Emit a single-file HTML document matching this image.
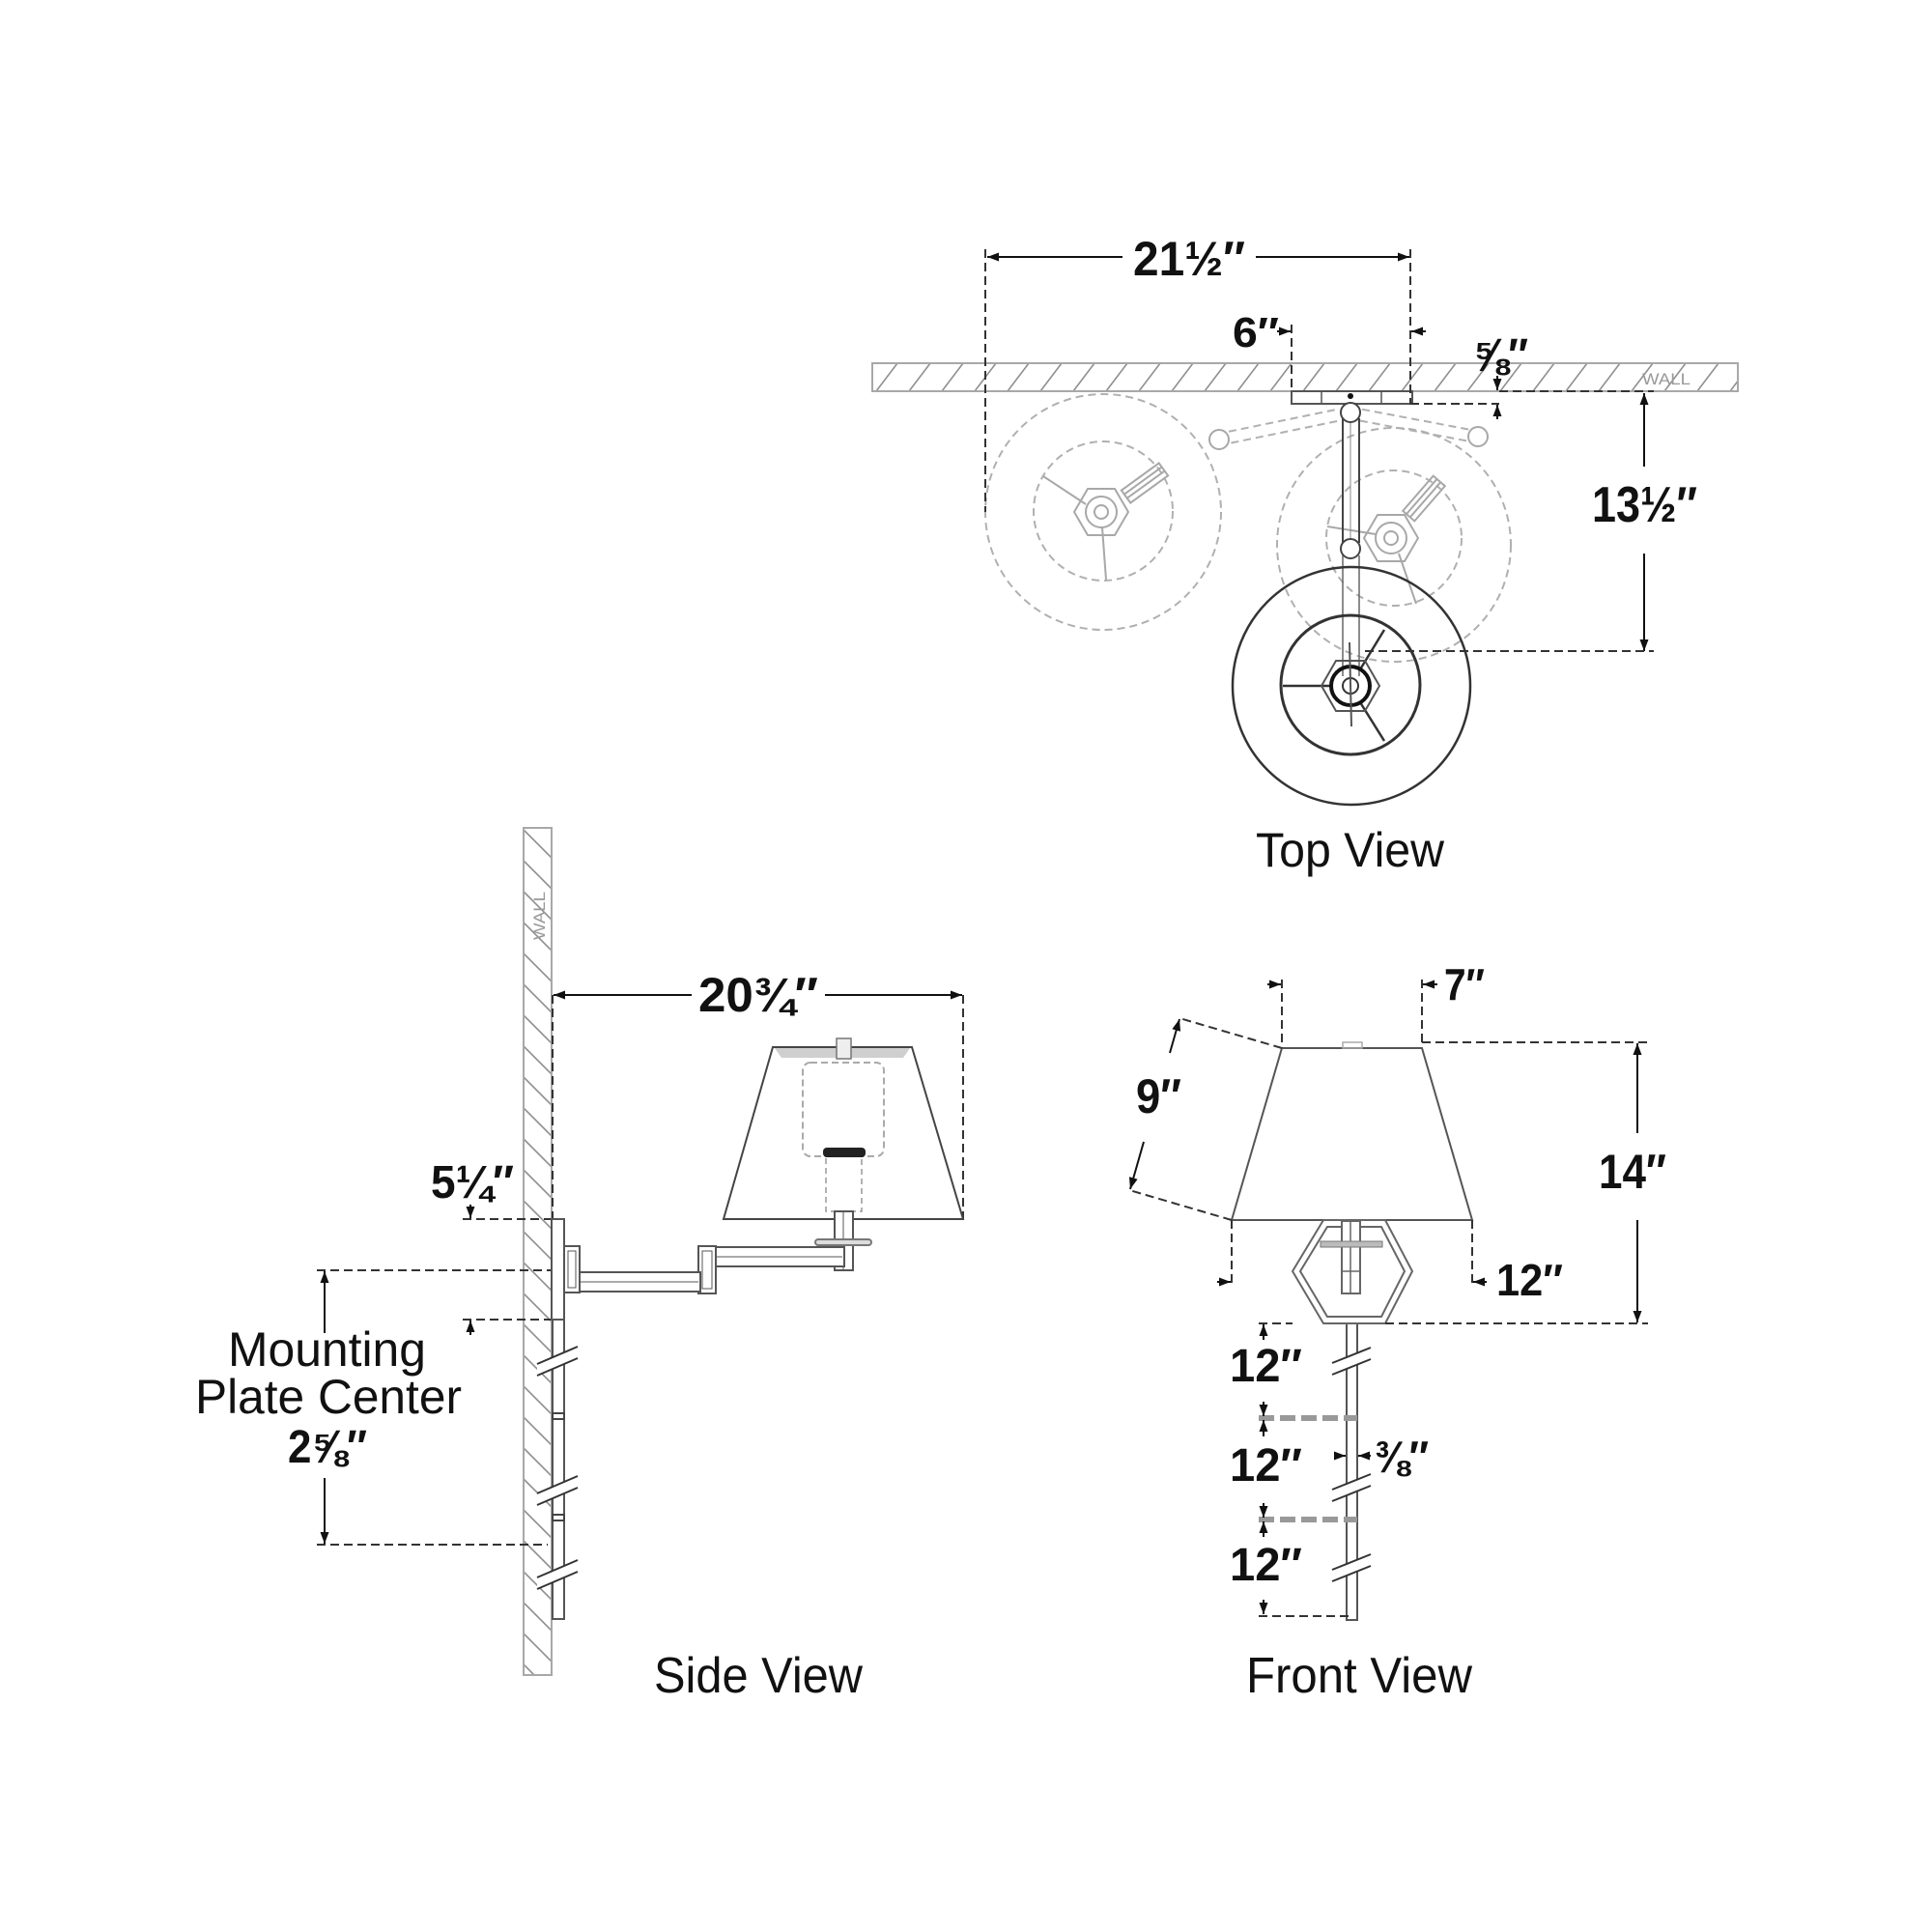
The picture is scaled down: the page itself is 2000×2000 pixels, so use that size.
<!DOCTYPE html>
<html><head><meta charset="utf-8"><style>
html,body{margin:0;padding:0;background:#fff;}
svg{display:block;}
text{font-family:"Liberation Sans","DejaVu Sans",sans-serif;fill:#111;}
.d{font-weight:bold;}
</style></head><body>
<svg width="2000" height="2000" viewBox="0 0 2000 2000" xmlns="http://www.w3.org/2000/svg">
<defs>
<marker id="a" viewBox="0 0 12 10" refX="12" refY="5" markerWidth="13" markerHeight="10" markerUnits="userSpaceOnUse" orient="auto"><path d="M0,0.5 L12,5 L0,9.5 z" fill="#111"/></marker>
<pattern id="hT" patternUnits="userSpaceOnUse" x="903" y="376" width="34" height="29"><path d="M4,29 L26,0" stroke="#8f8f8f" stroke-width="1.6"/></pattern>
<pattern id="hS" patternUnits="userSpaceOnUse" x="542" y="857" width="29" height="32"><path d="M0,2 L29,31" stroke="#8f8f8f" stroke-width="1.6"/></pattern>
</defs>
<rect width="2000" height="2000" fill="#fff"/>

<!-- ================= TOP VIEW ================= -->
<rect x="903" y="376" width="896" height="29" fill="url(#hT)" stroke="#a8a8a8" stroke-width="2"/>
<text x="1700" y="398" font-size="17" style="fill:#999" textLength="50" lengthAdjust="spacingAndGlyphs">WALL</text>

<!-- ghost lamps -->
<g stroke="#b0b0b0" stroke-width="2" stroke-dasharray="8 5" fill="none">
<circle cx="1142" cy="530" r="122"/>
<circle cx="1142" cy="529" r="72"/>
<circle cx="1443" cy="564" r="121"/>
<circle cx="1443" cy="557" r="70"/>
<g transform="translate(1330,441) rotate(-11.6)"><line x1="-58" y1="-6" x2="58" y2="-6"/><line x1="-58" y1="6" x2="58" y2="6"/></g>
<g transform="translate(1464,440) rotate(10.7)"><line x1="-56" y1="-6" x2="56" y2="-6"/><line x1="-56" y1="6" x2="56" y2="6"/></g>
</g>
<g stroke="#a8a8a8" stroke-width="2" fill="none">
<circle cx="1262" cy="455" r="10" fill="#fff"/>
<circle cx="1530" cy="452" r="10" fill="#fff"/>
<polygon points="1168,530 1154,554 1126,554 1112,530 1126,506 1154,506"/>
<circle cx="1140" cy="530" r="16"/>
<circle cx="1140" cy="530" r="7"/>
<line x1="1124" y1="522" x2="1080" y2="493"/>
<line x1="1141" y1="546" x2="1145" y2="600"/>
<polygon points="1468,557 1454,581 1426,581 1412,557 1426,533 1454,533"/>
<circle cx="1440" cy="557" r="16"/>
<circle cx="1440" cy="557" r="7"/>
<line x1="1424" y1="553" x2="1374" y2="545"/>
<line x1="1448" y1="573" x2="1466" y2="625"/>
<g transform="translate(1185,500) rotate(-36)"><rect x="-24" y="-8" width="48" height="16"/><line x1="-24" y1="-3" x2="24" y2="-3"/><line x1="-24" y1="2" x2="24" y2="2"/></g>
<g transform="translate(1474,516) rotate(-49)"><rect x="-24" y="-8" width="48" height="16"/><line x1="-24" y1="-3" x2="24" y2="-3"/><line x1="-24" y1="2" x2="24" y2="2"/></g>
</g>

<!-- plate -->
<rect x="1337" y="405" width="125" height="13" fill="#fff" stroke="#555" stroke-width="2"/>
<line x1="1368" y1="405" x2="1368" y2="418" stroke="#555" stroke-width="1.5"/>
<line x1="1430" y1="405" x2="1430" y2="418" stroke="#555" stroke-width="1.5"/>
<circle cx="1398" cy="410" r="3" fill="#111"/>

<!-- front lamp arm -->
<g stroke="#444" stroke-width="2" fill="none">
<line x1="1390" y1="433" x2="1390" y2="562"/>
<line x1="1407" y1="433" x2="1407" y2="562"/>
<line x1="1398" y1="437" x2="1398" y2="558" stroke="#888" stroke-width="1"/>
<line x1="1390" y1="575" x2="1390" y2="700" stroke="#666" stroke-width="1.5"/>
<line x1="1407" y1="575" x2="1407" y2="700" stroke="#666" stroke-width="1.5"/>
<circle cx="1398" cy="427" r="10" fill="#fff"/>
<circle cx="1398" cy="568" r="10" fill="#fff"/>
</g>
<!-- front shade top -->
<g stroke="#333" fill="none">
<circle cx="1399" cy="710" r="123" stroke-width="2.5"/>
<circle cx="1398" cy="709" r="72" stroke-width="3"/>
<line x1="1328" y1="710" x2="1378" y2="710" stroke-width="2.5"/>
<line x1="1408" y1="693" x2="1433" y2="652" stroke-width="2.5"/>
<line x1="1408" y1="727" x2="1433" y2="767" stroke-width="2.5"/>
<polygon points="1428,710 1413,736 1383,736 1368,710 1383,684 1413,684" stroke-width="2" stroke="#555"/>
<circle cx="1398" cy="710" r="20" stroke-width="4" stroke="#111"/>
<circle cx="1398" cy="710" r="8" stroke-width="2"/>
<line x1="1397" y1="665" x2="1399" y2="752" stroke-width="2" stroke="#555"/>
</g>

<!-- top view dims -->
<g stroke="#111" stroke-width="2" fill="none">
<line x1="1162" y1="266" x2="1022" y2="266" marker-end="url(#a)"/>
<line x1="1300" y1="266" x2="1459" y2="266" marker-end="url(#a)"/>
<line x1="1322" y1="343" x2="1336" y2="343" marker-end="url(#a)"/>
<line x1="1476" y1="343" x2="1461" y2="343" marker-end="url(#a)"/>
<line x1="1550" y1="389" x2="1550" y2="404" marker-end="url(#a)"/>
<line x1="1550" y1="434" x2="1550" y2="419" marker-end="url(#a)"/>
<line x1="1702" y1="483" x2="1702" y2="407" marker-end="url(#a)"/>
<line x1="1702" y1="573" x2="1702" y2="674" marker-end="url(#a)"/>
</g>
<g stroke="#333" stroke-width="2" stroke-dasharray="9 5" fill="none">
<line x1="1020" y1="258" x2="1020" y2="530"/>
<line x1="1460" y1="258" x2="1460" y2="418"/>
<line x1="1337" y1="336" x2="1337" y2="405"/>
<line x1="1460" y1="418" x2="1552" y2="418"/>
<line x1="1552" y1="405" x2="1712" y2="405"/>
<line x1="1413" y1="674" x2="1712" y2="674"/>
</g>
<text class="d" x="1173" y="285" font-size="50" textLength="116" lengthAdjust="spacingAndGlyphs">21½″</text>
<text class="d" x="1276" y="359" font-size="44" textLength="48" lengthAdjust="spacingAndGlyphs">6″</text>
<text class="d" x="1525" y="384" font-size="48" textLength="57" lengthAdjust="spacingAndGlyphs">⅝″</text>
<text class="d" x="1648" y="540" font-size="52" textLength="109" lengthAdjust="spacingAndGlyphs">13½″</text>
<text x="1300" y="897" font-size="50" textLength="195" lengthAdjust="spacingAndGlyphs">Top View</text>

<!-- ================= SIDE VIEW ================= -->
<rect x="542" y="857" width="29" height="877" fill="url(#hS)" stroke="#a8a8a8" stroke-width="2"/>
<text transform="translate(564,973) rotate(-90)" font-size="17" style="fill:#999" textLength="50" lengthAdjust="spacingAndGlyphs">WALL</text>

<g stroke="#333" stroke-width="2" stroke-dasharray="9 5" fill="none">
<line x1="572" y1="1030" x2="572" y2="1262"/>
<line x1="997" y1="1030" x2="997" y2="1262"/>
<line x1="479" y1="1262" x2="571" y2="1262"/>
<line x1="479" y1="1366" x2="571" y2="1366"/>
<line x1="328" y1="1315" x2="584" y2="1315"/>
<line x1="328" y1="1599" x2="567" y2="1599"/>
</g>
<g stroke="#111" stroke-width="2" fill="none">
<line x1="716" y1="1030" x2="573" y2="1030" marker-end="url(#a)"/>
<line x1="854" y1="1030" x2="996" y2="1030" marker-end="url(#a)"/>
<line x1="487" y1="1247" x2="487" y2="1261" marker-end="url(#a)"/>
<line x1="487" y1="1382" x2="487" y2="1367" marker-end="url(#a)"/>
<line x1="336" y1="1380" x2="336" y2="1316" marker-end="url(#a)"/>
<line x1="336" y1="1530" x2="336" y2="1598" marker-end="url(#a)"/>
</g>

<!-- shade side -->
<polygon points="802,1085 942,1085 935,1095 809,1095" fill="#cfcfcf"/>
<polygon points="800,1084 944,1084 997,1262 749,1262" fill="none" stroke="#444" stroke-width="2"/>
<rect x="866" y="1075" width="15" height="21" fill="#eee" stroke="#777" stroke-width="1.5"/>
<rect x="831" y="1100" width="84" height="97" rx="8" fill="none" stroke="#aaa" stroke-width="2" stroke-dasharray="7 4"/>
<rect x="855" y="1197" width="37" height="57" fill="none" stroke="#999" stroke-width="1.5" stroke-dasharray="6 4"/>
<rect x="852" y="1188" width="44" height="10" rx="4" fill="#222"/>
<!-- arm side -->
<g stroke="#555" stroke-width="2" fill="#fff">
<rect x="864" y="1254" width="19" height="61"/>
<line x1="873" y1="1255" x2="873" y2="1314" stroke-width="1"/>
<rect x="844" y="1283" width="58" height="6" rx="3" fill="#ddd" stroke="#777"/>
<rect x="735" y="1291" width="139" height="20"/>
<line x1="737" y1="1301" x2="872" y2="1301" stroke-width="1"/>
<rect x="723" y="1290" width="18" height="49"/>
<rect x="727" y="1295" width="10" height="39" stroke-width="1"/>
<rect x="595" y="1317" width="130" height="20"/>
<line x1="597" y1="1327" x2="723" y2="1327" stroke-width="1"/>
<rect x="584" y="1290" width="16" height="48"/>
<rect x="588" y="1295" width="8" height="38" stroke-width="1"/>
<rect x="571" y="1262" width="13" height="104"/>
<rect x="572" y="1366" width="12" height="310"/>
<rect x="572" y="1463" width="12" height="6" fill="none" stroke="#444"/>
<rect x="572" y="1568" width="12" height="6" fill="none" stroke="#444"/>
</g>
<!-- breaks side -->
<g stroke="#333" stroke-width="2">
<polygon points="556,1412 598,1394 598,1406 556,1424" fill="#fff" stroke="none"/>
<line x1="556" y1="1412" x2="598" y2="1394"/><line x1="556" y1="1424" x2="598" y2="1406"/>
<polygon points="556,1546 598,1528 598,1540 556,1558" fill="#fff" stroke="none"/>
<line x1="556" y1="1546" x2="598" y2="1528"/><line x1="556" y1="1558" x2="598" y2="1540"/>
<polygon points="556,1633 598,1615 598,1627 556,1645" fill="#fff" stroke="none"/>
<line x1="556" y1="1633" x2="598" y2="1615"/><line x1="556" y1="1645" x2="598" y2="1627"/>
</g>

<text class="d" x="723" y="1047" font-size="50" textLength="124" lengthAdjust="spacingAndGlyphs">20¾″</text>
<text class="d" x="446" y="1240" font-size="48" textLength="86" lengthAdjust="spacingAndGlyphs">5¼″</text>
<text x="236" y="1414" font-size="50" textLength="205" lengthAdjust="spacingAndGlyphs">Mounting</text>
<text x="202" y="1463" font-size="50" textLength="276" lengthAdjust="spacingAndGlyphs">Plate Center</text>
<text class="d" x="298" y="1514" font-size="48" textLength="82" lengthAdjust="spacingAndGlyphs">2⅝″</text>
<text x="677" y="1752" font-size="52" textLength="216" lengthAdjust="spacingAndGlyphs">Side View</text>

<!-- ================= FRONT VIEW ================= -->
<polygon points="1327,1085 1472,1085 1524,1263 1275,1263" fill="none" stroke="#555" stroke-width="2"/>
<rect x="1390" y="1079" width="20" height="6" fill="none" stroke="#aaa" stroke-width="1.5"/>
<!-- pole -->
<rect x="1394" y="1370" width="11" height="307" fill="#fff" stroke="#555" stroke-width="2"/>
<!-- hex bracket -->
<g fill="none" stroke="#666" stroke-width="2">
<polygon points="1370,1263 1434,1263 1462,1316 1434,1370 1370,1370 1338,1316" fill="#fff"/>
<polygon points="1374,1270 1430,1270 1454,1316 1430,1363 1374,1363 1346,1316"/>
<rect x="1389" y="1264" width="19" height="75" fill="#fff"/>
<line x1="1398" y1="1264" x2="1398" y2="1339" stroke-width="1.5"/>
<line x1="1389" y1="1316" x2="1408" y2="1316" stroke-width="1.5"/>
<rect x="1367" y="1285" width="64" height="6" fill="#bbb" stroke="#777" stroke-width="1"/>
</g>
<!-- gray thick dashes -->
<g stroke="#999" stroke-width="6" stroke-dasharray="16 6">
<line x1="1303" y1="1468" x2="1405" y2="1468"/>
<line x1="1303" y1="1573" x2="1405" y2="1573"/>
</g>
<!-- breaks front -->
<g stroke="#333" stroke-width="2">
<polygon points="1379,1411 1419,1395 1419,1407 1379,1423" fill="#fff" stroke="none"/>
<line x1="1379" y1="1411" x2="1419" y2="1395"/><line x1="1379" y1="1423" x2="1419" y2="1407"/>
<polygon points="1379,1542 1419,1526 1419,1538 1379,1554" fill="#fff" stroke="none"/>
<line x1="1379" y1="1542" x2="1419" y2="1526"/><line x1="1379" y1="1554" x2="1419" y2="1538"/>
<polygon points="1379,1625 1419,1609 1419,1621 1379,1637" fill="#fff" stroke="none"/>
<line x1="1379" y1="1625" x2="1419" y2="1609"/><line x1="1379" y1="1637" x2="1419" y2="1621"/>
</g>
<g stroke="#333" stroke-width="2" stroke-dasharray="9 5" fill="none">
<line x1="1327" y1="1014" x2="1327" y2="1085"/>
<line x1="1472" y1="1014" x2="1472" y2="1079"/>
<line x1="1472" y1="1079" x2="1706" y2="1079"/>
<line x1="1303" y1="1370" x2="1338" y2="1370"/>
<line x1="1434" y1="1370" x2="1706" y2="1370"/>
<line x1="1327" y1="1085" x2="1221" y2="1054"/>
<line x1="1275" y1="1263" x2="1169" y2="1232"/>
<line x1="1275" y1="1263" x2="1275" y2="1331"/>
<line x1="1524" y1="1263" x2="1524" y2="1331"/>
<line x1="1303" y1="1673" x2="1396" y2="1673"/>
</g>
<g stroke="#111" stroke-width="2" fill="none">
<line x1="1312" y1="1019" x2="1326" y2="1019" marker-end="url(#a)"/>
<line x1="1488" y1="1019" x2="1473" y2="1019" marker-end="url(#a)"/>
<line x1="1695" y1="1173" x2="1695" y2="1080" marker-end="url(#a)"/>
<line x1="1695" y1="1263" x2="1695" y2="1369" marker-end="url(#a)"/>
<line x1="1211" y1="1090" x2="1221" y2="1055" marker-end="url(#a)"/>
<line x1="1184" y1="1182" x2="1170" y2="1231" marker-end="url(#a)"/>
<line x1="1260" y1="1327" x2="1274" y2="1327" marker-end="url(#a)"/>
<line x1="1539" y1="1327" x2="1525" y2="1327" marker-end="url(#a)"/>
<line x1="1308" y1="1387" x2="1308" y2="1371" marker-end="url(#a)"/>
<line x1="1308" y1="1451" x2="1308" y2="1466" marker-end="url(#a)"/>
<line x1="1308" y1="1487" x2="1308" y2="1470" marker-end="url(#a)"/>
<line x1="1308" y1="1556" x2="1308" y2="1571" marker-end="url(#a)"/>
<line x1="1308" y1="1591" x2="1308" y2="1575" marker-end="url(#a)"/>
<line x1="1308" y1="1656" x2="1308" y2="1671" marker-end="url(#a)"/>
<line x1="1381" y1="1507" x2="1393" y2="1507" marker-end="url(#a)"/>
<line x1="1419" y1="1507" x2="1406" y2="1507" marker-end="url(#a)"/>
</g>
<text class="d" x="1495" y="1035" font-size="46" textLength="42" lengthAdjust="spacingAndGlyphs">7″</text>
<text class="d" x="1176" y="1152" font-size="50" textLength="47" lengthAdjust="spacingAndGlyphs">9″</text>
<text class="d" x="1655" y="1230" font-size="50" textLength="70" lengthAdjust="spacingAndGlyphs">14″</text>
<text class="d" x="1549" y="1341" font-size="46" textLength="69" lengthAdjust="spacingAndGlyphs">12″</text>
<text class="d" x="1273" y="1430" font-size="48" textLength="75" lengthAdjust="spacingAndGlyphs">12″</text>
<text class="d" x="1273" y="1533" font-size="48" textLength="75" lengthAdjust="spacingAndGlyphs">12″</text>
<text class="d" x="1273" y="1636" font-size="48" textLength="75" lengthAdjust="spacingAndGlyphs">12″</text>
<text class="d" x="1423" y="1524" font-size="46" textLength="56" lengthAdjust="spacingAndGlyphs">⅜″</text>
<text x="1290" y="1752" font-size="52" textLength="234" lengthAdjust="spacingAndGlyphs">Front View</text>
</svg>
</body></html>
